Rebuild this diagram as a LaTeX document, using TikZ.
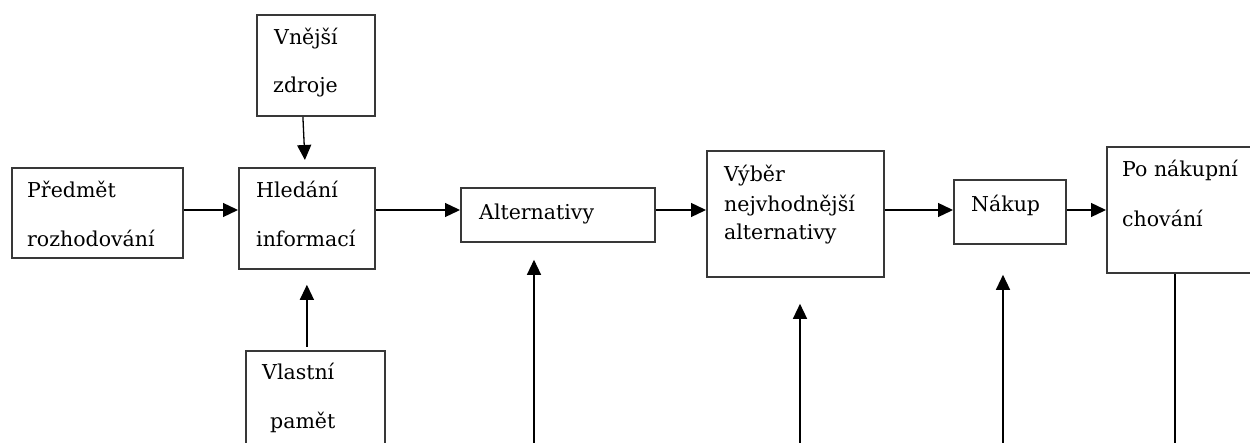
\documentclass[tikz,border=0pt]{standalone}
\usepackage{fontspec}
\setmainfont{DejaVu Serif}
\usetikzlibrary{arrows.meta,calc}
\begin{document}
\begin{tikzpicture}[x=1pt,y=-1pt,
  boxnode/.style={draw=black!78,line width=1.8pt,inner sep=0pt,anchor=north west},
  txt/.style={anchor=base west,inner sep=0pt,font=\fontsize{20.5}{24}\selectfont,text=black},
  arr/.style={line width=1.3pt,-{Triangle[length=15pt,width=14pt]}},
  ln/.style={line width=1.3pt}]
\useasboundingbox (0,0) rectangle (1250,443);
% boxes
\node[boxnode,minimum width=171pt,minimum height=90pt] (pred) at (11,167) {};
\node[boxnode,minimum width=136pt,minimum height=101pt] (hled) at (238,167) {};
\node[boxnode,minimum width=118pt,minimum height=101pt] (vnej) at (256,14) {};
\node[boxnode,minimum width=139pt,minimum height=110pt] (vlast) at (245,350) {};
\node[boxnode,minimum width=194pt,minimum height=54pt] (alt) at (460,187) {};
\node[boxnode,minimum width=177pt,minimum height=126pt] (vyb) at (706,150) {};
\node[boxnode,minimum width=112pt,minimum height=64pt] (nak) at (953,179) {};
\node[boxnode,minimum width=170pt,minimum height=126pt] (po) at (1106,146) {};
% texts
\node[txt] (t1) at (27,198) {Předmět};
\node[txt] (t2) at (27,247) {rozhodování};
\node[txt] (t3) at (256,198) {Hledání};
\node[txt] (t4) at (256,247) {informací};
\node[txt] (t5) at (274,45) {Vnější};
\node[txt] (t6) at (273,93) {zdroje};
\node[txt] (t7) at (262,380) {Vlastní};
\node[txt] (t8) at (270,428) {pamět};
\node[txt] (t9) at (479,220) {Alternativy};
\node[txt] (t10) at (724,182) {Výběr};
\node[txt] (t11) at (724,212) {nejvhodnější};
\node[txt] (t12) at (724,240) {alternativy};
\node[txt] (t13) at (971,212) {Nákup};
\node[txt] (t14) at (1122,177) {Po nákupní};
\node[txt] (t15) at (1122,227) {chování};
% helper coordinates
\coordinate (ml) at (0,210);
\coordinate (b1) at (534,443);
\coordinate (b2) at (800,443);
\coordinate (b3) at (1003,443);
\coordinate (b4) at (1175,443);
% horizontal arrows
\draw[arr] (pred.east |- ml) -- (hled.west |- ml);
\draw[arr] (hled.east |- ml) -- (alt.west |- ml);
\draw[arr] (alt.east |- ml) -- (vyb.west |- ml);
\draw[arr] (vyb.east |- ml) -- (nak.west |- ml);
\draw[arr] (nak.east |- ml) -- (po.west |- ml);
% vertical arrows to Hledani
\draw[arr] ($(vnej.south)+(-13,0)$) -- ($(hled.north)+(-2,-7)$);
\draw[arr] ($(vlast.north)+(-8.5,-3)$) -- ($(hled.south)+(0,15)$);
% bottom arrows
\draw[arr] (b1) -- ($(alt.south -| b1)+(0,17)$);
\draw[arr] (b2) -- ($(vyb.south -| b2)+(0,26)$);
\draw[arr] (b3) -- ($(nak.south -| b3)+(0,30)$);
\draw[ln] (po.south -| b4) -- (b4);
\end{tikzpicture}
\end{document}
